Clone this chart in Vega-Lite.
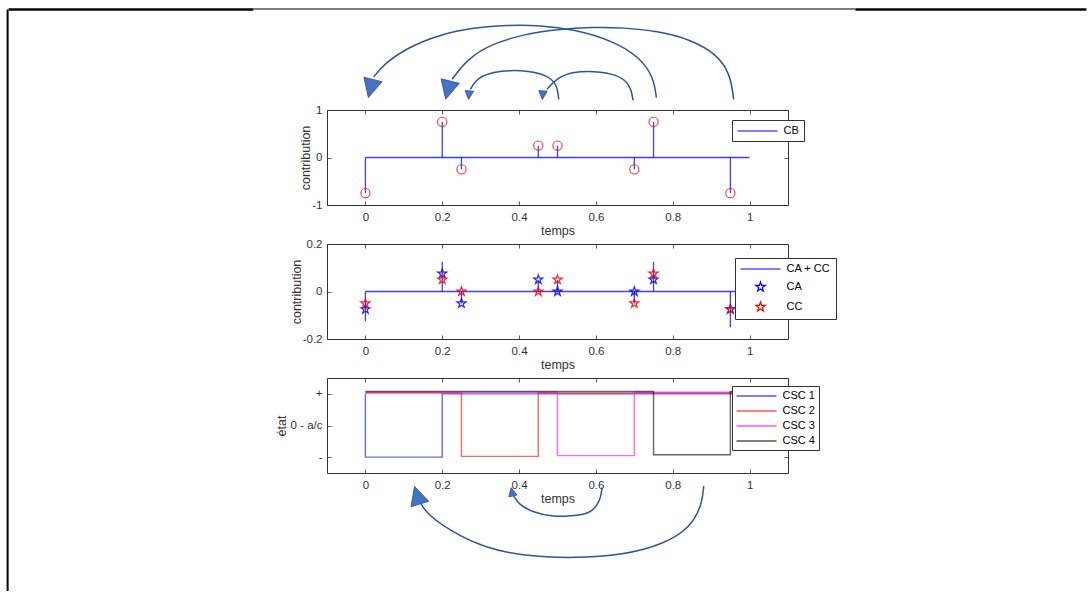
{
  "$schema": "https://vega.github.io/schema/vega-lite/v6.json",
  "background": "white",
  "autosize": {"type": "pad"},
  "padding": {"left": 6, "top": 7, "right": 0, "bottom": 0},
  "usermeta": {"embedOptions": {"actions": false}},
  "config": {
    "font": "Liberation Sans",
    "view": {"stroke": "#333333", "strokeWidth": 1},
    "axis": {"domain": false, "grid": false, "ticks": true, "tickSize": -4, "tickColor": "#333333", "tickWidth": 0.8,
      "labelFont": "Liberation Sans", "labelFontSize": 11.5, "labelColor": "#333333",
      "titleFont": "Liberation Sans", "titleFontSize": 12.5, "titleFontWeight": "normal", "titleColor": "#333333"},
    "axisX": {"labelPadding": 10, "titlePadding": 2},
    "axisY": {"labelPadding": 9, "titlePadding": -1},
    "legend": {"strokeColor": "#333333", "fillColor": "white", "padding": 4, "cornerRadius": 0,
      "labelFont": "Liberation Sans", "labelFontSize": 11, "labelColor": "#000000",
      "symbolSize": 100, "symbolStrokeWidth": 1.2, "symbolOpacity": 1, "symbolOffset": 14.5, "labelOffset": 20, "rowPadding": 3}
  },
  "datasets": {
    "cb": [
      {"t": 0, "v": -0.75}, {"t": 0.2, "v": 0.75}, {"t": 0.25, "v": -0.25}, {"t": 0.45, "v": 0.25},
      {"t": 0.5, "v": 0.25}, {"t": 0.7, "v": -0.25}, {"t": 0.75, "v": 0.75}, {"t": 0.95, "v": -0.75}
    ],
    "baseline": [{"t": 0, "v": 0}, {"t": 1, "v": 0}],
    "sum": [
      {"t": 0, "v": -0.125}, {"t": 0.2, "v": 0.125}, {"t": 0.25, "v": -0.05}, {"t": 0.45, "v": 0.05},
      {"t": 0.5, "v": 0.05}, {"t": 0.7, "v": -0.05}, {"t": 0.75, "v": 0.125}, {"t": 0.95, "v": -0.15}
    ],
    "stars": [
      {"series": "CA", "t": 0, "v": -0.075}, {"series": "CA", "t": 0.2, "v": 0.075}, {"series": "CA", "t": 0.25, "v": -0.05},
      {"series": "CA", "t": 0.45, "v": 0.05}, {"series": "CA", "t": 0.5, "v": 0}, {"series": "CA", "t": 0.7, "v": 0},
      {"series": "CA", "t": 0.75, "v": 0.05}, {"series": "CA", "t": 0.95, "v": -0.075},
      {"series": "CC", "t": 0, "v": -0.05}, {"series": "CC", "t": 0.2, "v": 0.05}, {"series": "CC", "t": 0.25, "v": 0},
      {"series": "CC", "t": 0.45, "v": 0}, {"series": "CC", "t": 0.5, "v": 0.05}, {"series": "CC", "t": 0.7, "v": -0.05},
      {"series": "CC", "t": 0.75, "v": 0.075}, {"series": "CC", "t": 0.95, "v": -0.075}
    ],
    "csc": [
      {"series": "CSC 1", "i": 0, "t": 0, "v": 1}, {"series": "CSC 1", "i": 1, "t": 0, "v": -1},
      {"series": "CSC 1", "i": 2, "t": 0.2, "v": -1}, {"series": "CSC 1", "i": 3, "t": 0.2, "v": 1},
      {"series": "CSC 1", "i": 4, "t": 1, "v": 1},
      {"series": "CSC 2", "i": 0, "t": 0, "v": 1.025}, {"series": "CSC 2", "i": 1, "t": 0.25, "v": 1.025},
      {"series": "CSC 2", "i": 2, "t": 0.25, "v": -0.975}, {"series": "CSC 2", "i": 3, "t": 0.45, "v": -0.975},
      {"series": "CSC 2", "i": 4, "t": 0.45, "v": 1.025}, {"series": "CSC 2", "i": 5, "t": 1, "v": 1.025},
      {"series": "CSC 3", "i": 0, "t": 0, "v": 1.05}, {"series": "CSC 3", "i": 1, "t": 0.5, "v": 1.05},
      {"series": "CSC 3", "i": 2, "t": 0.5, "v": -0.95}, {"series": "CSC 3", "i": 3, "t": 0.7, "v": -0.95},
      {"series": "CSC 3", "i": 4, "t": 0.7, "v": 1.05}, {"series": "CSC 3", "i": 5, "t": 1, "v": 1.05},
      {"series": "CSC 4", "i": 0, "t": 0, "v": 1.075}, {"series": "CSC 4", "i": 1, "t": 0.75, "v": 1.075},
      {"series": "CSC 4", "i": 2, "t": 0.75, "v": -0.925}, {"series": "CSC 4", "i": 3, "t": 0.95, "v": -0.925},
      {"series": "CSC 4", "i": 4, "t": 0.95, "v": 1.075}, {"series": "CSC 4", "i": 5, "t": 1, "v": 1.075}
    ],
    "frame": [
      {"kind": "side", "t": -0.93137, "t2": -0.93137, "v": 3.11579, "v2": -9.12632},
      {"kind": "thin", "t": -0.29154, "t2": 1.27549, "v": 3.12632, "v2": 3.12632},
      {"kind": "thick", "t": -0.92877, "t2": -0.29154, "v": 3.11579, "v2": 3.11579},
      {"kind": "thick", "t": 1.27549, "t2": 1.87679, "v": 3.11579, "v2": 3.11579}
    ],
    "arcsTop": [
      {"arc": "a1", "i": 0, "t": 0.7574, "v": 1.259}, {"arc": "a1", "i": 1, "t": 0.7504, "v": 1.68},
      {"arc": "a1", "i": 2, "t": 0.7158, "v": 2.101}, {"arc": "a1", "i": 3, "t": 0.6463, "v": 2.453},
      {"arc": "a1", "i": 4, "t": 0.5422, "v": 2.699}, {"arc": "a1", "i": 5, "t": 0.4555, "v": 2.783},
      {"arc": "a1", "i": 6, "t": 0.3688, "v": 2.789}, {"arc": "a1", "i": 7, "t": 0.2819, "v": 2.733},
      {"arc": "a1", "i": 8, "t": 0.1952, "v": 2.594}, {"arc": "a1", "i": 9, "t": 0.1085, "v": 2.312},
      {"arc": "a1", "i": 10, "t": 0.0476, "v": 1.962}, {"arc": "a1", "i": 11, "t": 0.0216, "v": 1.695},
      {"arc": "a2", "i": 0, "t": 0.9586, "v": 1.225}, {"arc": "a2", "i": 1, "t": 0.95, "v": 1.752},
      {"arc": "a2", "i": 2, "t": 0.9154, "v": 2.173}, {"arc": "a2", "i": 3, "t": 0.8459, "v": 2.488},
      {"arc": "a2", "i": 4, "t": 0.7592, "v": 2.663}, {"arc": "a2", "i": 5, "t": 0.6723, "v": 2.733},
      {"arc": "a2", "i": 6, "t": 0.5942, "v": 2.747}, {"arc": "a2", "i": 7, "t": 0.499, "v": 2.699},
      {"arc": "a2", "i": 8, "t": 0.412, "v": 2.594}, {"arc": "a2", "i": 9, "t": 0.3253, "v": 2.383},
      {"arc": "a2", "i": 10, "t": 0.2647, "v": 2.067}, {"arc": "a2", "i": 11, "t": 0.2257, "v": 1.646},
      {"arc": "a3", "i": 0, "t": 0.5031, "v": 1.225}, {"arc": "a3", "i": 1, "t": 0.499, "v": 1.541},
      {"arc": "a3", "i": 2, "t": 0.4729, "v": 1.737}, {"arc": "a3", "i": 3, "t": 0.4209, "v": 1.821},
      {"arc": "a3", "i": 4, "t": 0.3818, "v": 1.836}, {"arc": "a3", "i": 5, "t": 0.3339, "v": 1.806},
      {"arc": "a3", "i": 6, "t": 0.2907, "v": 1.68}, {"arc": "a3", "i": 7, "t": 0.2733, "v": 1.436},
      {"arc": "a4", "i": 0, "t": 0.6968, "v": 1.204}, {"arc": "a4", "i": 1, "t": 0.6897, "v": 1.541},
      {"arc": "a4", "i": 2, "t": 0.6551, "v": 1.752}, {"arc": "a4", "i": 3, "t": 0.5942, "v": 1.821},
      {"arc": "a4", "i": 4, "t": 0.5422, "v": 1.806}, {"arc": "a4", "i": 5, "t": 0.499, "v": 1.68},
      {"arc": "a4", "i": 6, "t": 0.4729, "v": 1.436}
    ],
    "headsTop": [
      {"head": "large", "t": 0.01367, "v": 1.4526}, {"head": "large", "t": 0.21475, "v": 1.4179},
      {"head": "small", "t": 0.26954, "v": 1.3126}, {"head": "small", "t": 0.46139, "v": 1.3126}
    ],
    "arcsBottom": [
      {"arc": "b1", "i": 0, "t": 0.8806, "v": -1.9105}, {"arc": "b1", "i": 1, "t": 0.8765, "v": -2.4884},
      {"arc": "b1", "i": 2, "t": 0.846, "v": -3.2273}, {"arc": "b1", "i": 3, "t": 0.7765, "v": -3.7516},
      {"arc": "b1", "i": 4, "t": 0.6724, "v": -4.0895}, {"arc": "b1", "i": 5, "t": 0.5423, "v": -4.1937},
      {"arc": "b1", "i": 6, "t": 0.4121, "v": -4.1211}, {"arc": "b1", "i": 7, "t": 0.3079, "v": -3.859},
      {"arc": "b1", "i": 8, "t": 0.2213, "v": -3.3316}, {"arc": "b1", "i": 9, "t": 0.1606, "v": -2.7999},
      {"arc": "b1", "i": 10, "t": 0.1432, "v": -2.4378},
      {"arc": "b2", "i": 0, "t": 0.6161, "v": -1.9642}, {"arc": "b2", "i": 1, "t": 0.6117, "v": -2.3842},
      {"arc": "b2", "i": 2, "t": 0.5857, "v": -2.7999}, {"arc": "b2", "i": 3, "t": 0.5336, "v": -2.8579},
      {"arc": "b2", "i": 4, "t": 0.4902, "v": -2.8895}, {"arc": "b2", "i": 5, "t": 0.4381, "v": -2.7537},
      {"arc": "b2", "i": 6, "t": 0.399, "v": -2.4884}, {"arc": "b2", "i": 7, "t": 0.386, "v": -2.2263}
    ],
    "headsBottom": [
      {"head": "large", "t": 0.1347, "v": -2.1995},
      {"head": "small", "t": 0.3816, "v": -2.0952}
    ]
  },
  "spacing": 39,
  "bounds": "flush",
  "resolve": {
    "scale": {"x": "independent", "y": "independent", "color": "independent", "shape": "independent"},
    "legend": {"color": "independent", "shape": "independent"}
  },
  "vconcat": [
    {
      "width": 461,
      "height": 95,
      "resolve": {"axis": {"x": "independent", "y": "independent"}},
      "encoding": {
        "x": {"field": "t", "type": "quantitative", "scale": {"domain": [-0.1, 1.1], "nice": false, "zero": false}, "axis": null},
        "y": {"field": "v", "type": "quantitative", "scale": {"domain": [-1, 1], "nice": false, "zero": false}, "axis": null}
      },
      "layer": [
        {
          "data": {"name": "baseline"},
          "mark": {"type": "line", "strokeWidth": 1.3, "opacity": 0.75},
          "encoding": {
            "x": {"field": "t", "type": "quantitative", "scale": {"domain": [-0.1, 1.1], "nice": false, "zero": false},
              "axis": {"orient": "bottom", "values": [0, 0.2, 0.4, 0.6, 0.8, 1], "title": "temps", "labelExpr": "datum.value + ''"}},
            "y": {"field": "v", "type": "quantitative", "scale": {"domain": [-1, 1], "nice": false, "zero": false},
              "axis": {"orient": "left", "values": [-1, 0, 1], "title": "contribution", "labelExpr": "datum.value + ''"}},
            "color": {"datum": "CB", "type": "nominal", "scale": {"domain": ["CB"], "range": ["#0000ff"]},
              "legend": {"title": null, "orient": "none", "legendX": 405, "legendY": 10, "symbolType": "M-4,0L4,0", "padding": 5}}
          }
        },
        {
          "data": {"name": "baseline"},
          "mark": {"type": "point", "opacity": 0},
          "encoding": {
            "x": {"field": "t", "type": "quantitative", "scale": {"domain": [-0.1, 1.1], "nice": false, "zero": false},
              "axis": {"orient": "top", "values": [0, 0.2, 0.4, 0.6, 0.8, 1], "title": null, "labels": false}},
            "y": {"field": "v", "type": "quantitative", "scale": {"domain": [-1, 1], "nice": false, "zero": false},
              "axis": {"orient": "right", "values": [-1, 0, 1], "title": null, "labels": false}}
          }
        },
        {
          "data": {"name": "cb"},
          "mark": {"type": "rule", "strokeWidth": 1.3, "opacity": 0.75},
          "encoding": {"y2": {"datum": 0}, "color": {"datum": "CB", "type": "nominal"}}
        },
        {
          "data": {"name": "cb"},
          "mark": {"type": "point", "shape": "circle", "filled": false, "stroke": "#ff0000", "strokeWidth": 1.1, "size": 85, "opacity": 0.8}
        },
        {
          "data": {"name": "frame"},
          "transform": [{"filter": "datum.kind === 'side'"}],
          "mark": {"type": "rule", "color": "#000000", "strokeWidth": 2},
          "encoding": {"x2": {"field": "t2"}, "y2": {"field": "v2"}}
        },
        {
          "data": {"name": "frame"},
          "transform": [{"filter": "datum.kind === 'thick'"}],
          "mark": {"type": "rule", "color": "#000000", "strokeWidth": 2.7},
          "encoding": {"x2": {"field": "t2"}, "y2": {"field": "v2"}}
        },
        {
          "data": {"name": "frame"},
          "transform": [{"filter": "datum.kind === 'thin'"}],
          "mark": {"type": "rule", "color": "#000000", "strokeWidth": 1},
          "encoding": {"x2": {"field": "t2"}, "y2": {"field": "v2"}}
        },
        {
          "data": {"name": "arcsTop"},
          "mark": {"type": "line", "interpolate": "basis", "color": "#2F5597", "strokeWidth": 1.5},
          "encoding": {"detail": {"field": "arc"}, "order": {"field": "i"}}
        },
        {
          "data": {"name": "headsTop"},
          "transform": [{"filter": "datum.head === 'large'"}],
          "mark": {"type": "point", "shape": "M-1,-1L1,-1L0,1Z", "filled": true, "fill": "#4472C4", "stroke": "#2F5597", "strokeWidth": 0.8, "size": 350, "angle": 14, "opacity": 1}
        },
        {
          "data": {"name": "headsTop"},
          "transform": [{"filter": "datum.head === 'small'"}],
          "mark": {"type": "point", "shape": "M-1,-1L1,-1L0,1Z", "filled": true, "fill": "#4472C4", "stroke": "#2F5597", "strokeWidth": 0.8, "size": 74, "angle": 5, "opacity": 1}
        }
      ]
    },
    {
      "width": 461,
      "height": 95,
      "resolve": {"axis": {"x": "independent", "y": "independent"}},
      "encoding": {
        "x": {"field": "t", "type": "quantitative", "scale": {"domain": [-0.1, 1.1], "nice": false, "zero": false}, "axis": null},
        "y": {"field": "v", "type": "quantitative", "scale": {"domain": [-0.2, 0.2], "nice": false, "zero": false}, "axis": null}
      },
      "layer": [
        {
          "data": {"name": "baseline"},
          "mark": {"type": "line", "strokeWidth": 1.3, "opacity": 0.75},
          "encoding": {
            "x": {"field": "t", "type": "quantitative", "scale": {"domain": [-0.1, 1.1], "nice": false, "zero": false},
              "axis": {"orient": "bottom", "values": [0, 0.2, 0.4, 0.6, 0.8, 1], "title": "temps", "labelExpr": "datum.value + ''"}},
            "y": {"field": "v", "type": "quantitative", "scale": {"domain": [-0.2, 0.2], "nice": false, "zero": false},
              "axis": {"orient": "left", "values": [-0.2, 0, 0.2], "title": "contribution", "labelExpr": "datum.value + ''"}},
            "color": {"datum": "CA + CC", "type": "nominal"}
          }
        },
        {
          "data": {"name": "baseline"},
          "mark": {"type": "point", "opacity": 0},
          "encoding": {
            "x": {"field": "t", "type": "quantitative", "scale": {"domain": [-0.1, 1.1], "nice": false, "zero": false},
              "axis": {"orient": "top", "values": [0, 0.2, 0.4, 0.6, 0.8, 1], "title": null, "labels": false}},
            "y": {"field": "v", "type": "quantitative", "scale": {"domain": [-0.2, 0.2], "nice": false, "zero": false},
              "axis": {"orient": "right", "values": [-0.2, 0, 0.2], "title": null, "labels": false}}
          }
        },
        {
          "data": {"name": "sum"},
          "mark": {"type": "rule", "strokeWidth": 1.3, "opacity": 0.75},
          "encoding": {"y2": {"datum": 0}, "color": {"datum": "CA + CC", "type": "nominal"}}
        },
        {
          "data": {"name": "stars"},
          "mark": {"type": "point", "filled": false, "strokeWidth": 1.2, "size": 90, "opacity": 0.85},
          "encoding": {
            "color": {"field": "series", "type": "nominal",
              "scale": {"domain": ["CA + CC", "CA", "CC"], "range": ["#0000ff", "#0000ff", "#ff0000"]},
              "legend": {"title": null, "orient": "none", "legendX": 408, "legendY": 14, "rowPadding": 5, "padding": 5}},
            "shape": {"field": "series", "type": "nominal",
              "scale": {"domain": ["CA + CC", "CA", "CC"], "range": ["M-4,0L4,0", "M0,-1L0.225,-0.309L0.951,-0.309L0.363,0.118L0.588,0.809L0,0.382L-0.588,0.809L-0.363,0.118L-0.951,-0.309L-0.225,-0.309Z", "M0,-1L0.225,-0.309L0.951,-0.309L0.363,0.118L0.588,0.809L0,0.382L-0.588,0.809L-0.363,0.118L-0.951,-0.309L-0.225,-0.309Z"]},
              "legend": {"title": null, "orient": "none", "legendX": 408, "legendY": 14, "rowPadding": 5, "padding": 5}}
          }
        }
      ]
    },
    {
      "width": 461,
      "height": 95,
      "resolve": {"axis": {"x": "independent", "y": "independent"}},
      "encoding": {
        "x": {"field": "t", "type": "quantitative", "scale": {"domain": [-0.1, 1.1], "nice": false, "zero": false}, "axis": null},
        "y": {"field": "v", "type": "quantitative", "scale": {"domain": [-1.5, 1.5], "nice": false, "zero": false}, "axis": null}
      },
      "layer": [
        {
          "data": {"name": "csc"},
          "mark": {"type": "line", "strokeWidth": 1.4, "opacity": 0.6},
          "encoding": {
            "x": {"field": "t", "type": "quantitative", "scale": {"domain": [-0.1, 1.1], "nice": false, "zero": false},
              "axis": {"orient": "bottom", "values": [0, 0.2, 0.4, 0.6, 0.8, 1], "title": "temps", "labelExpr": "datum.value + ''"}},
            "y": {"field": "v", "type": "quantitative", "scale": {"domain": [-1.5, 1.5], "nice": false, "zero": false},
              "axis": {"orient": "left", "values": [-1, 0, 1], "title": "état", "titlePadding": 2, "labelExpr": "datum.value == 1 ? '+' : datum.value == 0 ? '0 - a/c' : '-'"}},
            "order": {"field": "i"},
            "color": {"field": "series", "type": "nominal",
              "scale": {"domain": ["CSC 1", "CSC 2", "CSC 3", "CSC 4"], "range": ["#0000ff", "#ff0000", "#ff00ff", "#000000"]},
              "legend": {"title": null, "orient": "none", "legendX": 405, "legendY": 8, "symbolType": "M-4,0L4,0", "rowPadding": 4}}
          }
        },
        {
          "data": {"name": "baseline"},
          "mark": {"type": "point", "opacity": 0},
          "encoding": {
            "x": {"field": "t", "type": "quantitative", "scale": {"domain": [-0.1, 1.1], "nice": false, "zero": false},
              "axis": {"orient": "top", "values": [0, 0.2, 0.4, 0.6, 0.8, 1], "title": null, "labels": false}},
            "y": {"field": "v", "type": "quantitative", "scale": {"domain": [-1.5, 1.5], "nice": false, "zero": false},
              "axis": {"orient": "right", "values": [-1, 0, 1], "title": null, "labels": false}}
          }
        },
        {
          "data": {"name": "arcsBottom"},
          "mark": {"type": "line", "interpolate": "basis", "color": "#2F5597", "strokeWidth": 1.5},
          "encoding": {"detail": {"field": "arc"}, "order": {"field": "i"}}
        },
        {
          "data": {"name": "headsBottom"},
          "transform": [{"filter": "datum.head === 'large'"}],
          "mark": {"type": "point", "shape": "M-1,1L1,1L0,-1Z", "filled": true, "fill": "#4472C4", "stroke": "#2F5597", "strokeWidth": 0.8, "size": 340, "angle": -17, "opacity": 1}
        },
        {
          "data": {"name": "headsBottom"},
          "transform": [{"filter": "datum.head === 'small'"}],
          "mark": {"type": "point", "shape": "M-1,1L1,1L0,-1Z", "filled": true, "fill": "#4472C4", "stroke": "#2F5597", "strokeWidth": 0.8, "size": 70, "angle": -12, "opacity": 1}
        }
      ]
    }
  ]
}
